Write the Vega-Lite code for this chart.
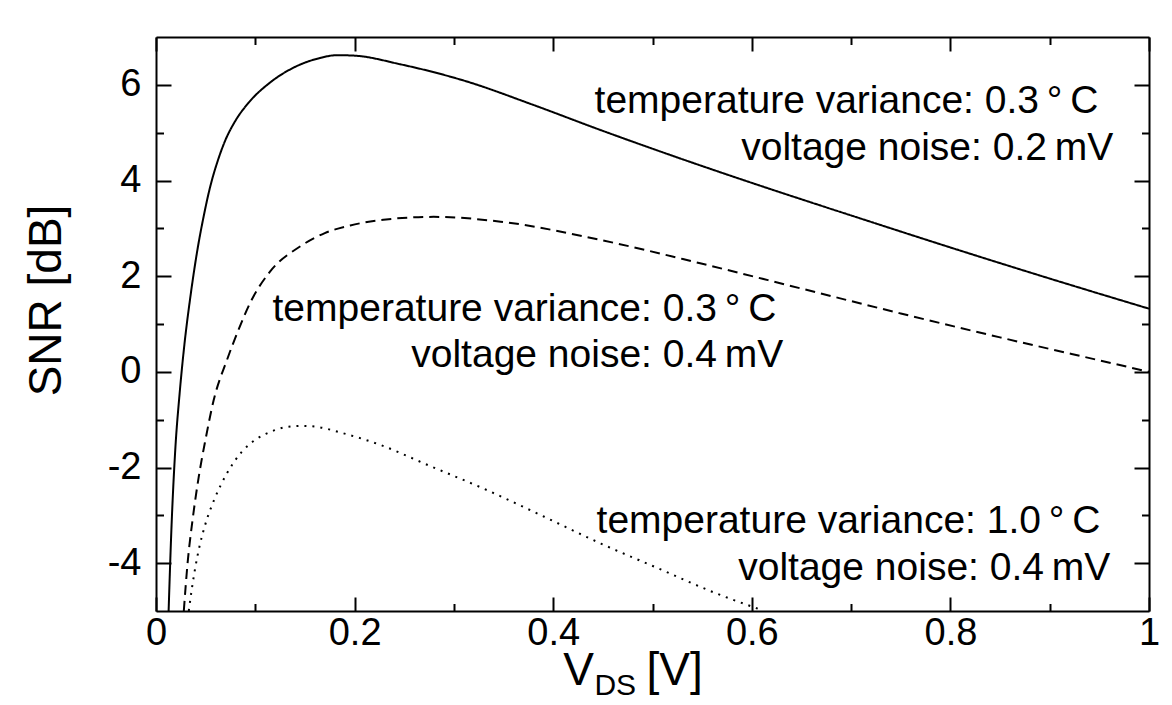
{
  "$schema": "https://vega.github.io/schema/vega-lite/v6.json",
  "width": 993,
  "height": 574,
  "autosize": {"type": "none"},
  "padding": {"left": 156, "top": 37, "right": 23, "bottom": 94},
  "background": "white",
  "config": {"view": {"stroke": null}, "font": "Liberation Sans"},
  "datasets": {
    "curves": [
      {"series": "a", "vds": 0.0127, "snr": -5},
      {"series": "a", "vds": 0.0155, "snr": -3.3},
      {"series": "a", "vds": 0.0194, "snr": -1.63},
      {"series": "a", "vds": 0.0238, "snr": -0.45},
      {"series": "a", "vds": 0.0285, "snr": 0.55},
      {"series": "a", "vds": 0.0345, "snr": 1.55},
      {"series": "a", "vds": 0.0413, "snr": 2.5},
      {"series": "a", "vds": 0.048, "snr": 3.25},
      {"series": "a", "vds": 0.0547, "snr": 3.88},
      {"series": "a", "vds": 0.062, "snr": 4.4},
      {"series": "a", "vds": 0.07, "snr": 4.85},
      {"series": "a", "vds": 0.08, "snr": 5.25},
      {"series": "a", "vds": 0.093, "snr": 5.62},
      {"series": "a", "vds": 0.115, "snr": 6.05},
      {"series": "a", "vds": 0.1386, "snr": 6.36},
      {"series": "a", "vds": 0.165, "snr": 6.56},
      {"series": "a", "vds": 0.182, "snr": 6.62},
      {"series": "a", "vds": 0.2, "snr": 6.61},
      {"series": "a", "vds": 0.246, "snr": 6.43},
      {"series": "a", "vds": 0.313, "snr": 6.07},
      {"series": "a", "vds": 0.38, "snr": 5.58},
      {"series": "a", "vds": 0.447, "snr": 5.06},
      {"series": "a", "vds": 0.528, "snr": 4.46},
      {"series": "a", "vds": 0.6, "snr": 3.95},
      {"series": "a", "vds": 0.7, "snr": 3.27},
      {"series": "a", "vds": 0.8, "snr": 2.6},
      {"series": "a", "vds": 0.9, "snr": 1.95},
      {"series": "a", "vds": 1.0, "snr": 1.32},
      {"series": "b", "vds": 0.028, "snr": -5},
      {"series": "b", "vds": 0.0318, "snr": -4.0},
      {"series": "b", "vds": 0.0368, "snr": -3.1},
      {"series": "b", "vds": 0.043, "snr": -2.2},
      {"series": "b", "vds": 0.05, "snr": -1.4},
      {"series": "b", "vds": 0.058, "snr": -0.6},
      {"series": "b", "vds": 0.0715, "snr": 0.25},
      {"series": "b", "vds": 0.083, "snr": 0.875},
      {"series": "b", "vds": 0.095, "snr": 1.45},
      {"series": "b", "vds": 0.115, "snr": 2.1},
      {"series": "b", "vds": 0.145, "snr": 2.62},
      {"series": "b", "vds": 0.17, "snr": 2.9},
      {"series": "b", "vds": 0.1956, "snr": 3.06},
      {"series": "b", "vds": 0.229, "snr": 3.18},
      {"series": "b", "vds": 0.2796, "snr": 3.24},
      {"series": "b", "vds": 0.347, "snr": 3.14},
      {"series": "b", "vds": 0.447, "snr": 2.76},
      {"series": "b", "vds": 0.548, "snr": 2.27},
      {"series": "b", "vds": 0.65, "snr": 1.74},
      {"series": "b", "vds": 0.75, "snr": 1.22},
      {"series": "b", "vds": 0.85, "snr": 0.72},
      {"series": "b", "vds": 0.95, "snr": 0.24},
      {"series": "b", "vds": 1.0, "snr": 0.0},
      {"series": "c", "vds": 0.033, "snr": -5},
      {"series": "c", "vds": 0.036, "snr": -4.55},
      {"series": "c", "vds": 0.0395, "snr": -4.1},
      {"series": "c", "vds": 0.0437, "snr": -3.66},
      {"series": "c", "vds": 0.0495, "snr": -3.2},
      {"series": "c", "vds": 0.0591, "snr": -2.65},
      {"series": "c", "vds": 0.0707, "snr": -2.15},
      {"series": "c", "vds": 0.0861, "snr": -1.68},
      {"series": "c", "vds": 0.1, "snr": -1.42},
      {"series": "c", "vds": 0.117, "snr": -1.24},
      {"series": "c", "vds": 0.13, "snr": -1.16},
      {"series": "c", "vds": 0.1478, "snr": -1.13},
      {"series": "c", "vds": 0.165, "snr": -1.16},
      {"series": "c", "vds": 0.186, "snr": -1.27},
      {"series": "c", "vds": 0.2249, "snr": -1.52},
      {"series": "c", "vds": 0.275, "snr": -1.96},
      {"series": "c", "vds": 0.333, "snr": -2.47},
      {"series": "c", "vds": 0.391, "snr": -3.03},
      {"series": "c", "vds": 0.448, "snr": -3.59},
      {"series": "c", "vds": 0.506, "snr": -4.11},
      {"series": "c", "vds": 0.564, "snr": -4.63},
      {"series": "c", "vds": 0.61, "snr": -4.98}
    ],
    "notes": [
      {"vds": 0.949, "snr": 5.41, "label": "temperature variance: 0.3\u2009°\u2009C"},
      {"vds": 0.964, "snr": 4.43, "label": "voltage noise: 0.2\u2009mV"},
      {"vds": 0.6247, "snr": 1.07, "label": "temperature variance: 0.3\u2009°\u2009C"},
      {"vds": 0.6317, "snr": 0.11, "label": "voltage noise: 0.4\u2009mV"},
      {"vds": 0.951, "snr": -3.37, "label": "temperature variance: 1.0\u2009°\u2009C"},
      {"vds": 0.961, "snr": -4.35, "label": "voltage noise: 0.4\u2009mV"}
    ],
    "xtitle": [
      {"vds": 0.41, "snr": -6.55, "label": "V", "part": "main"},
      {"vds": 0.4415, "snr": -6.76, "label": "DS", "part": "sub"},
      {"vds": 0.494, "snr": -6.55, "label": "[V]", "part": "main"}
    ]
  },
  "resolve": {"axis": {"x": "independent", "y": "independent"}},
  "layer": [
    {
      "data": {"name": "curves"},
      "mark": {"type": "line", "color": "black", "strokeWidth": 2, "interpolate": "monotone"},
      "encoding": {
        "x": {
          "field": "vds", "type": "quantitative",
          "scale": {"domain": [0, 1], "nice": false, "zero": false},
          "axis": {
            "orient": "bottom", "title": null, "grid": false,
            "values": [0, 0.1, 0.2, 0.3, 0.4, 0.5, 0.6, 0.7, 0.8, 0.9, 1],
            "tickSize": {"condition": {"test": "abs(datum.value*5 - round(datum.value*5)) < 0.001", "value": -14}, "value": -7.5},
            "labelExpr": "abs(datum.value*5 - round(datum.value*5)) < 0.001 ? '' + datum.value : ''",
            "labelFont": "Liberation Sans", "labelFontSize": 38, "labelColor": "black",
            "labelPadding": 17, "labelFlush": false, "labelOverlap": false, "labelBound": false,
            "domainColor": "black", "domainWidth": 2, "tickColor": "black", "tickWidth": 2
          }
        },
        "y": {
          "field": "snr", "type": "quantitative",
          "scale": {"domain": [-5, 7], "nice": false, "zero": false},
          "axis": {
            "orient": "left", "title": "SNR [dB]", "grid": false,
            "values": [-4, -3, -2, -1, 0, 1, 2, 3, 4, 5, 6],
            "tickSize": {"condition": {"test": "datum.value % 2 === 0", "value": -15}, "value": -7.5},
            "labelExpr": "datum.value % 2 === 0 ? '' + datum.value : ''",
            "labelFont": "Liberation Sans", "labelFontSize": 38, "labelColor": "black",
            "labelPadding": 30, "labelFlush": false, "labelOverlap": false, "labelBound": false,
            "titleFont": "Liberation Sans", "titleFontSize": 46, "titleFontWeight": "normal", "titleColor": "black",
            "titleAngle": -90, "titleBaseline": "alphabetic", "titleAlign": "center",
            "titleX": -96, "titleY": 263,
            "domainColor": "black", "domainWidth": 2, "tickColor": "black", "tickWidth": 2
          }
        },
        "strokeDash": {
          "field": "series", "type": "nominal", "legend": null,
          "scale": {"domain": ["a", "b", "c"], "range": [[1, 0], [10, 6], [2, 6]]}
        }
      }
    },
    {
      "data": {"name": "notes"},
      "mark": {"type": "text", "align": "right", "baseline": "alphabetic", "font": "Liberation Sans", "fontSize": 39, "color": "black"},
      "encoding": {
        "x": {
          "field": "vds", "type": "quantitative",
          "scale": {"domain": [0, 1], "nice": false, "zero": false},
          "axis": {
            "orient": "top", "title": null, "grid": false, "labels": false,
            "values": [0, 0.1, 0.2, 0.3, 0.4, 0.5, 0.6, 0.7, 0.8, 0.9, 1],
            "tickSize": {"condition": {"test": "abs(datum.value*5 - round(datum.value*5)) < 0.001", "value": -14}, "value": -7.5},
            "domainColor": "black", "domainWidth": 2, "tickColor": "black", "tickWidth": 2
          }
        },
        "y": {
          "field": "snr", "type": "quantitative",
          "scale": {"domain": [-5, 7], "nice": false, "zero": false},
          "axis": {
            "orient": "right", "title": null, "grid": false, "labels": false,
            "values": [-4, -3, -2, -1, 0, 1, 2, 3, 4, 5, 6],
            "tickSize": {"condition": {"test": "datum.value % 2 === 0", "value": -15}, "value": -7.5},
            "domainColor": "black", "domainWidth": 2, "tickColor": "black", "tickWidth": 2
          }
        },
        "text": {"field": "label", "type": "nominal"}
      }
    },
    {
      "data": {"name": "xtitle"},
      "mark": {"type": "text", "align": "left", "baseline": "alphabetic", "font": "Liberation Sans", "color": "black"},
      "encoding": {
        "x": {"field": "vds", "type": "quantitative", "axis": null, "scale": {"domain": [0, 1], "nice": false, "zero": false}},
        "y": {"field": "snr", "type": "quantitative", "axis": null, "scale": {"domain": [-5, 7], "nice": false, "zero": false}},
        "text": {"field": "label", "type": "nominal"},
        "size": {"field": "part", "type": "nominal", "legend": null, "scale": {"domain": ["main", "sub"], "range": [46, 30]}}
      }
    }
  ]
}
